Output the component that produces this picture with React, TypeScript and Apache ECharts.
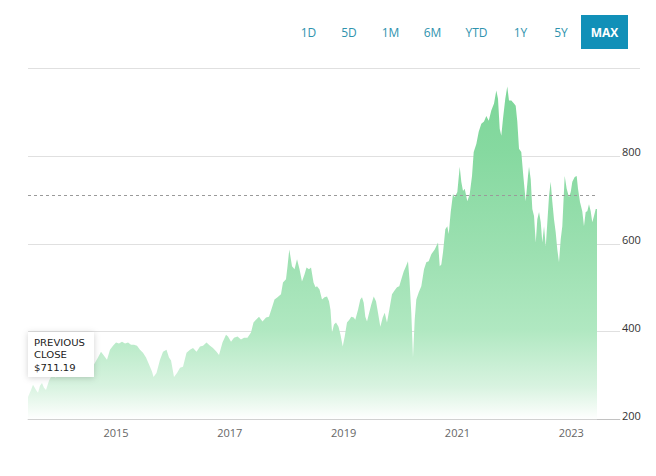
import React, { useEffect, useRef } from "react";
import * as echarts from "echarts";

// Time positions in decimal years
const dates = [
  2013.453, 2013.506, 2013.541, 2013.594, 2013.629, 2013.664, 2013.699, 2013.734, 2013.769, 2013.822,
  2013.875, 2013.945, 2014.015, 2014.086, 2014.156, 2014.226, 2014.297, 2014.367, 2014.437, 2014.507,
  2014.578, 2014.63, 2014.683, 2014.736, 2014.789, 2014.841, 2014.894, 2014.947, 2015.0, 2015.052,
  2015.105, 2015.158, 2015.211, 2015.263, 2015.316, 2015.369, 2015.421, 2015.474, 2015.527, 2015.58,
  2015.632, 2015.659, 2015.711, 2015.773, 2015.826, 2015.887, 2015.931, 2015.967, 2016.019, 2016.072,
  2016.125, 2016.177, 2016.239, 2016.3, 2016.353, 2016.415, 2016.476, 2016.529, 2016.59, 2016.652,
  2016.704, 2016.766, 2016.81, 2016.871, 2016.933, 2016.968, 2017.021, 2017.073, 2017.135, 2017.196,
  2017.249, 2017.31, 2017.372, 2017.416, 2017.46, 2017.513, 2017.574, 2017.636, 2017.688, 2017.741,
  2017.785, 2017.838, 2017.899, 2017.934, 2017.987, 2018.014, 2018.045, 2018.093, 2018.137, 2018.181,
  2018.225, 2018.268, 2018.312, 2018.348, 2018.391, 2018.427, 2018.471, 2018.506, 2018.532, 2018.576,
  2018.62, 2018.664, 2018.708, 2018.743, 2018.769, 2018.796, 2018.831, 2018.866, 2018.91, 2018.945,
  2018.984, 2019.019, 2019.059, 2019.1, 2019.135, 2019.177, 2019.205, 2019.253, 2019.293, 2019.323,
  2019.353, 2019.381, 2019.411, 2019.441, 2019.486, 2019.529, 2019.569, 2019.604, 2019.645, 2019.687,
  2019.722, 2019.762, 2019.803, 2019.85, 2019.898, 2019.938, 2019.978, 2020.014, 2020.056, 2020.096,
  2020.131, 2020.157, 2020.189, 2020.219, 2020.249, 2020.277, 2020.319, 2020.365, 2020.413, 2020.453,
  2020.495, 2020.541, 2020.601, 2020.659, 2020.689, 2020.717, 2020.747, 2020.787, 2020.822, 2020.847,
  2020.882, 2020.922, 2020.952, 2020.998, 2021.04, 2021.068, 2021.098, 2021.128, 2021.174, 2021.216,
  2021.256, 2021.286, 2021.332, 2021.374, 2021.42, 2021.467, 2021.508, 2021.55, 2021.595, 2021.643,
  2021.683, 2021.713, 2021.743, 2021.771, 2021.801, 2021.841, 2021.876, 2021.906, 2021.947, 2021.994,
  2022.024, 2022.052, 2022.082, 2022.122, 2022.158, 2022.2, 2022.24, 2022.258, 2022.288, 2022.316,
  2022.346, 2022.376, 2022.404, 2022.434, 2022.464, 2022.492, 2022.522, 2022.552, 2022.58, 2022.61,
  2022.639, 2022.668, 2022.697, 2022.727, 2022.755, 2022.785, 2022.815, 2022.843, 2022.86, 2022.885,
  2022.92, 2022.961, 2022.991, 2023.019, 2023.061, 2023.096, 2023.119, 2023.154, 2023.194, 2023.224,
  2023.254, 2023.282, 2023.312, 2023.342, 2023.37, 2023.4, 2023.43, 2023.453,
];

const prices = [
  251, 267, 279, 267, 261, 277, 283, 272, 267, 288,
  302, 295, 313, 309, 325, 318, 331, 322, 336, 327,
  318, 329, 341, 354, 345, 336, 359, 368, 375, 373,
  377, 373, 375, 370, 370, 368, 359, 352, 341, 325,
  309, 297, 306, 336, 354, 359, 341, 334, 297, 306,
  318, 320, 352, 359, 363, 354, 366, 368, 375, 368,
  363, 354, 347, 375, 393, 389, 377, 386, 389, 382,
  386, 386, 398, 421, 427, 434, 423, 432, 434, 455,
  473, 478, 485, 512, 519, 549, 587, 549, 542, 565,
  542, 514, 530, 546, 542, 546, 512, 501, 503, 496,
  473, 478, 480, 469, 450, 398, 416, 421, 411, 393,
  366, 389, 421, 427, 434, 432, 427, 450, 473, 478,
  466, 434, 423, 439, 462, 480, 469, 443, 411, 432,
  443, 421, 450, 485, 494, 501, 503, 519, 537, 549,
  560, 519, 443, 341, 427, 473, 489, 503, 542, 558,
  560, 576, 587, 603, 549, 553, 581, 633, 640, 622,
  672, 713, 706, 718, 775, 741, 720, 725, 697, 713,
  754, 809, 827, 855, 873, 878, 891, 880, 903, 919,
  949, 930, 862, 846, 885, 930, 958, 926, 926, 919,
  914, 878, 816, 809, 754, 697, 754, 775, 747, 679,
  663, 603, 656, 672, 649, 603, 640, 594, 649, 709,
  741, 695, 656, 626, 587, 558, 610, 640, 686, 754,
  725, 706, 718, 741, 752, 754, 725, 695, 674, 640,
  672, 674, 690, 674, 649, 663, 679, 679,
];

const yearTicks = [2015, 2017, 2019, 2021, 2023];
const rangeButtons = ["1D", "5D", "1M", "6M", "YTD", "1Y", "5Y", "MAX"];
const previousClose = 711.19;
const closeLabelLines = ["PREVIOUS", "CLOSE", "$711.19"];

export default function App() {
  const ref = useRef<HTMLDivElement>(null);

  useEffect(() => {
    const chart = echarts.init(ref.current!, null, { renderer: "svg" });
    const data = dates.map((d, i) => [d, prices[i]]);

    const buttonCenters = [308.5, 349, 390.5, 432.5, 476.5, 520.5, 561, 604.5];
    const buttonGraphics: any[] = rangeButtons.map((label, i) => {
      const active = label === "MAX";
      return {
        type: "text",
        x: buttonCenters[i],
        y: 32,
        z: 10,
        style: {
          text: label,
          fill: active ? "#ffffff" : "#2f93ae",
          font: `${active ? "bold " : ""}12px 'Open Sans', sans-serif`,
          align: "center",
          verticalAlign: "middle",
        },
      };
    });

    const closeTexts: any[] = closeLabelLines.map((t, i) => ({
      type: "text",
      x: 34,
      y: 342.5 + i * 12.5,
      scaleX: 1.12,
      z: 12,
      style: {
        text: t,
        fill: "#222222",
        font: "9px 'DejaVu Sans', sans-serif",
        align: "left",
        verticalAlign: "middle",
      },
    }));

    chart.setOption({
      animation: false,
      backgroundColor: "#ffffff",
      grid: { left: 28, right: 36, top: 68, bottom: 56.5, containLabel: false },
      xAxis: {
        type: "value",
        min: 2013.453,
        max: 2023.857,
        axisLine: { show: true, lineStyle: { color: "#dddddd", width: 1 } },
        axisTick: { show: false, customValues: yearTicks },
        splitLine: { show: false },
        axisLabel: {
          customValues: yearTicks,
          formatter: (v: number) => String(Math.round(v)),
          color: "#666666",
          fontSize: 11,
          fontFamily: "'Open Sans', sans-serif",
          margin: 7,
        },
      },
      yAxis: {
        type: "value",
        position: "right",
        min: 200,
        max: 1000,
        interval: 200,
        z: 3,
        axisLine: { show: false },
        axisTick: { show: false },
        splitLine: { show: true, lineStyle: { color: "rgba(0,0,0,0.12)", width: 1 } },
        axisLabel: {
          inside: false,
          margin: 2,
          showMaxLabel: false,
          color: "#333333",
          fontSize: 11,
          fontFamily: "'Open Sans', sans-serif",
          verticalAlign: "bottom",
          lineHeight: 9,
        },
      },
      series: [
        {
          type: "line",
          data,
          symbol: "none",
          showSymbol: false,
          lineStyle: { width: 0, opacity: 0 },
          areaStyle: {
            opacity: 1,
            color: new echarts.graphic.LinearGradient(0, 0, 0, 1, [
              { offset: 0, color: "#7dd699" },
              { offset: 0.2, color: "#86d9a0" },
              { offset: 0.5, color: "#9ce0b1" },
              { offset: 0.73, color: "#b0e8c1" },
              { offset: 0.9, color: "#d8f3e0" },
              { offset: 0.97, color: "#f3fbf5" },
              { offset: 1, color: "#ffffff" },
            ]),
          },
          markLine: {
            silent: true,
            symbol: "none",
            label: { show: false },
            lineStyle: { type: [3, 3], color: "#9a9a9a", width: 1 },
            data: [
              [
                { coord: [dates[0], previousClose] },
                { coord: [dates[dates.length - 1], previousClose] },
              ],
            ],
          },
        },
      ],
      graphic: [
        {
          type: "line",
          shape: { x1: 620, y1: 68.5, x2: 640, y2: 68.5 },
          z: 5,
          style: { stroke: "rgba(0,0,0,0.12)", lineWidth: 1 },
        },
        {
          type: "rect",
          shape: { x: 581, y: 15, width: 47, height: 34 },
          z: 9,
          style: { fill: "#1190b8" },
        },
        ...buttonGraphics,
        {
          type: "rect",
          shape: { x: 28, y: 332, width: 66, height: 45 },
          z: 11,
          style: {
            fill: "#ffffff",
            shadowBlur: 6,
            shadowColor: "rgba(0,0,0,0.18)",
            shadowOffsetY: 1,
          },
        },
        ...closeTexts,
      ],
    });

    return () => chart.dispose();
  }, []);

  return (
    <div
      ref={ref}
      style={{ position: "absolute", left: 0, top: 0, width: 656, height: 476 }}
    />
  );
}
